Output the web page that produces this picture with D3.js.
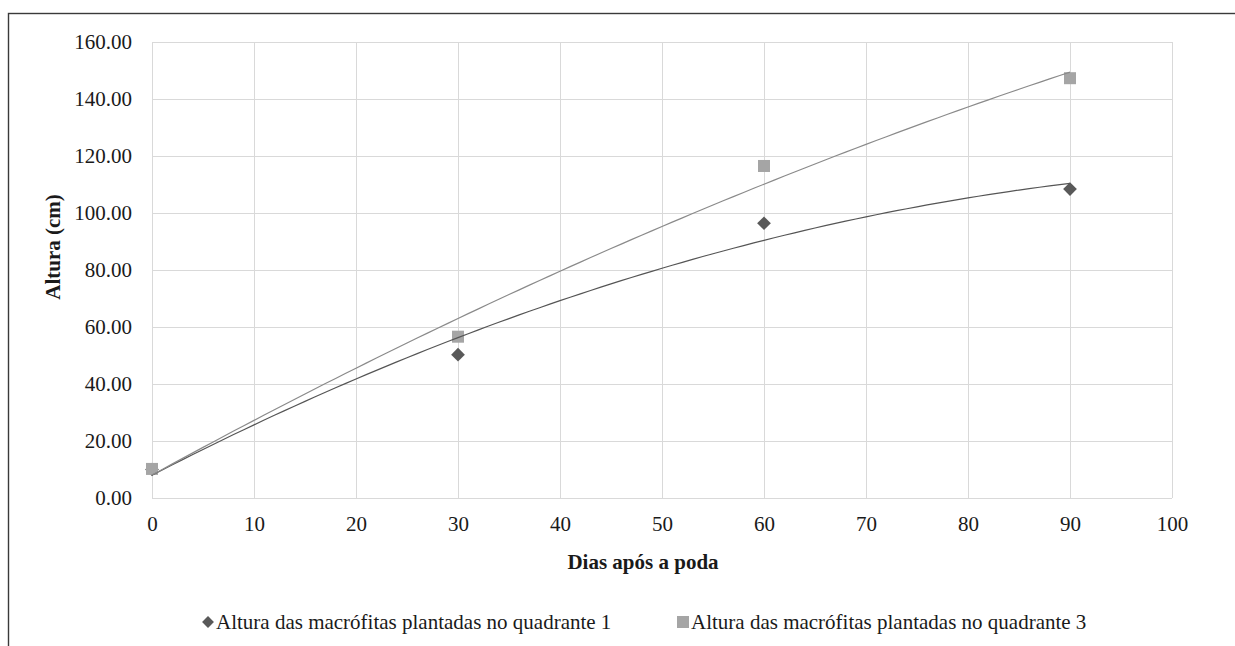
<!DOCTYPE html>
<html>
<head>
<meta charset="utf-8">
<script src="https://cdn.jsdelivr.net/npm/d3@7"></script>
</head>
<body style="margin:0;background:#fff">
<svg id="chart" width="1235" height="646" style="display:block;font-family:'Liberation Serif',serif"></svg>
<script>
// Days after pruning and measured heights (cm)
const days = [0, 30, 60, 90];
const heightQ1 = [10.0, 50.3, 96.4, 108.4];
const heightQ3 = [10.2, 56.6, 116.5, 147.3];
const seriesNames = [
  "Altura das macrófitas plantadas no quadrante 1",
  "Altura das macrófitas plantadas no quadrante 3"
];
const xTicks = [0, 10, 20, 30, 40, 50, 60, 70, 80, 90, 100];
const yTicks = [0, 20, 40, 60, 80, 100, 120, 140, 160];

const FONT = "'Liberation Serif', serif";
const TEXT_COLOR = "#1a1a1a";
const FS = 21;

const svg = d3.select("#chart");
const W = 1235, H = 646;
const plot = { left: 152, right: 1172, top: 42, bottom: 498 };

const x = d3.scaleLinear().domain([0, 100]).range([plot.left, plot.right]);
const y = d3.scaleLinear().domain([0, 160]).range([plot.bottom, plot.top]);

function serif(sel, size, weight) {
  sel.attr("font-family", FONT)
    .style("font-family", FONT)
    .style("font-size", size + "px")
    .style("font-weight", weight || "normal")
    .attr("fill", TEXT_COLOR);
  return sel;
}

// outer chart frame
svg.append("rect")
  .attr("x", 8.5).attr("y", 13.5)
  .attr("width", W + 20).attr("height", H + 20)
  .attr("fill", "none").attr("stroke", "#3a3a3a").attr("stroke-width", 1.4);

// gridlines
const grid = svg.append("g").attr("stroke", "#d9d9d9").attr("stroke-width", 1);
grid.selectAll("line.v").data(xTicks).join("line")
  .attr("x1", d => Math.round(x(d)) + 0.5).attr("x2", d => Math.round(x(d)) + 0.5)
  .attr("y1", plot.top).attr("y2", plot.bottom);
grid.selectAll("line.h").data(yTicks).join("line")
  .attr("y1", d => Math.round(y(d)) + 0.5).attr("y2", d => Math.round(y(d)) + 0.5)
  .attr("x1", plot.left).attr("x2", plot.right);

// axes (labels only)
const yAxis = d3.axisLeft(y).tickValues(yTicks).tickFormat(d3.format(".2f")).tickSize(0).tickPadding(20);
const gy = svg.append("g").attr("transform", `translate(${plot.left},0)`).call(yAxis);
gy.select(".domain").remove();
gy.attr("font-family", FONT);
serif(gy.selectAll("text"), FS);

const xAxis = d3.axisBottom(x).tickValues(xTicks).tickFormat(d3.format("d")).tickSize(0).tickPadding(18);
const gx = svg.append("g").attr("transform", `translate(0,${plot.bottom})`).call(xAxis);
gx.select(".domain").remove();
gx.attr("font-family", FONT);
serif(gx.selectAll("text"), FS);

// axis titles
serif(svg.append("text"), FS, "bold")
  .attr("transform", `translate(53,247) rotate(-90)`)
  .attr("text-anchor", "middle").attr("dominant-baseline", "central")
  .text("Altura (cm)");
serif(svg.append("text"), FS, "bold")
  .attr("x", 643).attr("y", 562)
  .attr("text-anchor", "middle").attr("dominant-baseline", "central")
  .text("Dias após a poda");

// second-order polynomial least-squares trendline
function polyFit2(xs, ys) {
  const n = xs.length;
  const s = [0, 0, 0, 0, 0], t = [0, 0, 0];
  for (let i = 0; i < n; i++) {
    for (let k = 0; k <= 4; k++) s[k] += Math.pow(xs[i], k);
    for (let k = 0; k <= 2; k++) t[k] += Math.pow(xs[i], k) * ys[i];
  }
  const M = [[s[0], s[1], s[2], t[0]], [s[1], s[2], s[3], t[1]], [s[2], s[3], s[4], t[2]]];
  for (let c = 0; c < 3; c++) {
    for (let r = c + 1; r < 3; r++) {
      const f = M[r][c] / M[c][c];
      for (let k = c; k < 4; k++) M[r][k] -= f * M[c][k];
    }
  }
  const coef = [0, 0, 0];
  for (let r = 2; r >= 0; r--) {
    let v = M[r][3];
    for (let k = r + 1; k < 3; k++) v -= M[r][k] * coef[k];
    coef[r] = v / M[r][r];
  }
  return xv => coef[0] + coef[1] * xv + coef[2] * xv * xv;
}

const line = d3.line().x(d => x(d[0])).y(d => y(d[1]));
function trend(values, color) {
  const f = polyFit2(days, values);
  const pts = d3.range(0, 90.01, 1).map(d => [d, f(d)]);
  svg.append("path").datum(pts).attr("d", line)
    .attr("fill", "none").attr("stroke", color).attr("stroke-width", 1.2);
}

// markers (drawn under the trendlines)
const diamond = d3.symbol().type(d3.symbolDiamond2).size(120);
svg.append("g").selectAll("path").data(days.map((d, i) => [d, heightQ1[i]])).join("path")
  .attr("d", diamond)
  .attr("transform", d => `translate(${x(d[0])},${y(d[1])})`)
  .attr("fill", "#595959");
svg.append("g").selectAll("rect").data(days.map((d, i) => [d, heightQ3[i]])).join("rect")
  .attr("x", d => x(d[0]) - 6).attr("y", d => y(d[1]) - 6)
  .attr("width", 12).attr("height", 12)
  .attr("fill", "#a5a5a5");

trend(heightQ1, "#555555");
trend(heightQ3, "#8a8a8a");

// legend
const legY = 622;
const lg = svg.append("g");
lg.append("path").attr("d", d3.symbol().type(d3.symbolDiamond2).size(90)())
  .attr("transform", `translate(208,${legY})`).attr("fill", "#595959");
serif(lg.append("text"), FS)
  .attr("x", 216).attr("y", legY).attr("dominant-baseline", "central")
  .text(seriesNames[0]);
lg.append("rect").attr("x", 677).attr("y", legY - 6).attr("width", 12).attr("height", 12).attr("fill", "#a5a5a5");
serif(lg.append("text"), FS)
  .attr("x", 691).attr("y", legY).attr("dominant-baseline", "central")
  .text(seriesNames[1]);
</script>
</body>
</html>
